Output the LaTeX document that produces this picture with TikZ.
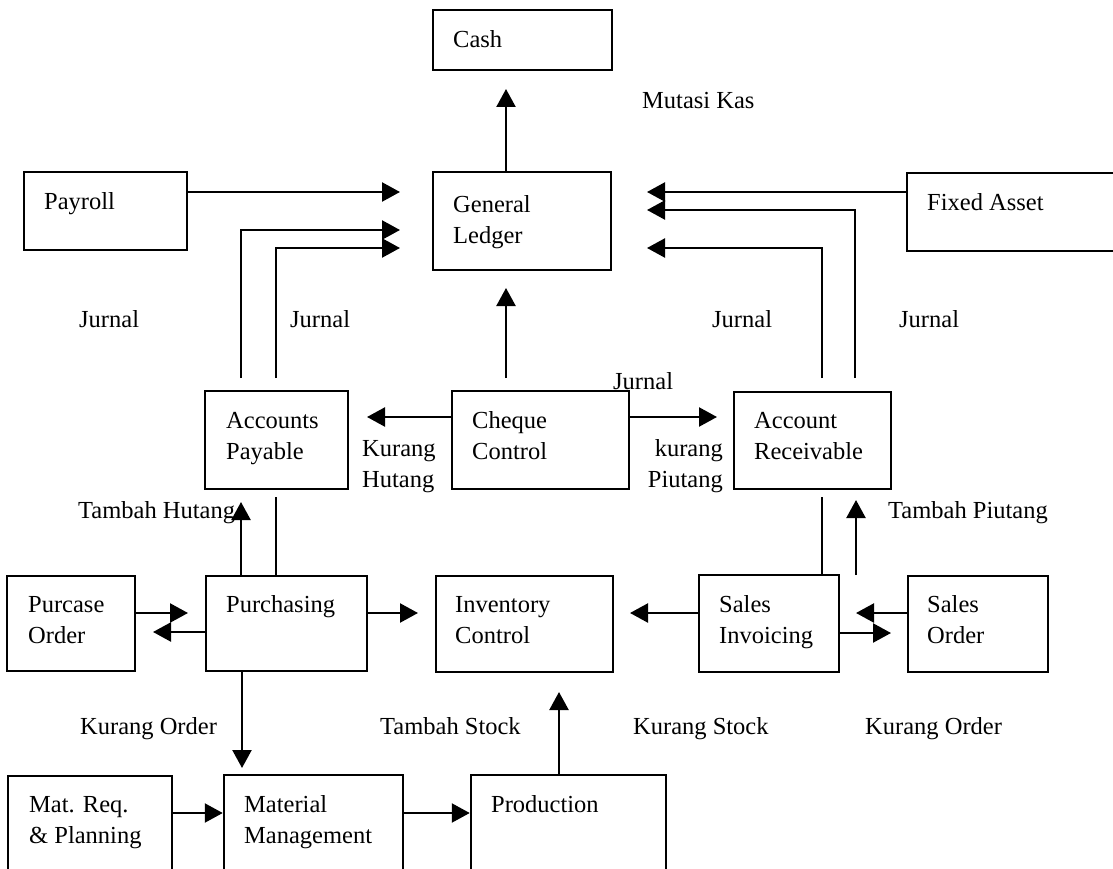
\documentclass[tikz,border=0pt]{standalone}
\usepackage{fontspec}
\setmainfont{Liberation Serif}
\usetikzlibrary{arrows.meta,fit}
\begin{document}
\begin{tikzpicture}[x=1pt,y=-1pt,
  box/.style={draw,line width=2.5pt,inner sep=0pt,rectangle},
  lbl/.style={anchor=base west,inner sep=0pt,align=left,font=\fontsize{24.5}{31}\selectfont},
  arr/.style={line width=2.3pt,-{Triangle[length=18pt,width=19pt]}},
  ln/.style={line width=2.3pt}]
\useasboundingbox (0,0) rectangle (1113,869);
% boxes
\node[box,fit={(433,10)(612,70)}] (cash) {};
\node[box,fit={(433,172)(611,270)}] (gl) {};
\node[box,fit={(24,172)(187,250)}] (payroll) {};
\node[box,fit={(907,173)(1130,251)}] (fixed) {};
\node[box,fit={(205,391)(348,489)}] (ap) {};
\node[box,fit={(452,391)(629,489)}] (cheque) {};
\node[box,fit={(734,392)(891,489)}] (ar) {};
\node[box,fit={(7,576)(135,671)}] (po) {};
\node[box,fit={(206,576)(367,671)}] (purch) {};
\node[box,fit={(436,576)(613,672)}] (inv) {};
\node[box,fit={(699,575)(839,672)}] (si) {};
\node[box,fit={(908,576)(1048,672)}] (so) {};
\node[box,fit={(8,776)(172,880)}] (mrp) {};
\node[box,fit={(224,775)(403,880)}] (mm) {};
\node[box,fit={(471,775)(666,880)}] (prod) {};
% box texts (base anchor = baseline of last line)
\node[lbl] (tcash) at (453,48) {Cash};
\node[lbl] (tgl) at (453,243) {General\\Ledger};
\node[lbl] (tpay) at (44,210) {Payroll};
\node[lbl] (tfix) at (927,211) {Fixed Asset};
\node[lbl] (tap) at (226,459) {Accounts\\Payable};
\node[lbl] (tchq) at (472,459) {Cheque\\Control};
\node[lbl] (tar) at (754,459) {Account\\Receivable};
\node[lbl] (tpo) at (28,643) {Purcase\\Order};
\node[lbl] (tpur) at (226,612) {Purchasing};
\node[lbl] (tinv) at (455,643) {Inventory\\Control};
\node[lbl] (tsi) at (719,643) {Sales\\Invoicing};
\node[lbl] (tso) at (927,643) {Sales\\Order};
\node[lbl] (tmrp) at (29,843) {Mat. Req.\\\& Planning};
\node[lbl] (tmm) at (244,843) {Material\\Management};
\node[lbl] (tprod) at (491,812) {Production};
% free labels
\node[lbl] (lmut) at (642,109) {Mutasi Kas};
\node[lbl] (lj1) at (79,327) {Jurnal};
\node[lbl] (lj2) at (290,327) {Jurnal};
\node[lbl] (lj3) at (712,327) {Jurnal};
\node[lbl] (lj4) at (899,327) {Jurnal};
\node[lbl] (lj5) at (613,389) {Jurnal};
\node[lbl] (lkh) at (362,487) {Kurang\\Hutang};
\node[lbl,anchor=base east,align=right] (lkp) at (723,487) {kurang\\Piutang};
\node[lbl] (lth) at (78,518) {Tambah Hutang};
\node[lbl] (ltp) at (888,518) {Tambah Piutang};
\node[lbl] (lko1) at (80,734) {Kurang Order};
\node[lbl] (lts) at (380,734) {Tambah Stock};
\node[lbl] (lks) at (633,734) {Kurang Stock};
\node[lbl] (lko2) at (865,734) {Kurang Order};
% free-end coordinates
\coordinate (cashin) at (506,89);
\coordinate (glinL1) at (400,192);
\coordinate (glinL2) at (400,230);
\coordinate (glinL3) at (400,248);
\coordinate (glinR1) at (647,192);
\coordinate (glinR2) at (647,210);
\coordinate (glinR3) at (647,248);
\coordinate (glinB) at (506,288);
\coordinate (apup1) at (241,378);
\coordinate (apup2) at (276,378);
\coordinate (arup1) at (822,378);
\coordinate (arup2) at (855,378);
\coordinate (apin) at (367,417);
\coordinate (arin) at (717,417);
\coordinate (chqtop) at (506,378);
\coordinate (apdn1) at (241,502);
\coordinate (apdn2) at (276,497);
\coordinate (ardn1) at (822,497);
\coordinate (ardn2) at (856,500);
\coordinate (ardn2s) at (856,575);
\coordinate (purin) at (188,613);
\coordinate (poin) at (153,632);
\coordinate (invinL) at (418,613);
\coordinate (invinR) at (630,613);
\coordinate (siin) at (856,613);
\coordinate (soin) at (891,633);
\coordinate (mmin) at (242,768);
\coordinate (invinB) at (559,692);
% connectors
\draw[arr] (gl.north -| cashin) -- (cashin);
\draw[arr] (payroll.east |- glinL1) -- (glinL1);
\draw[arr] (apup1) |- (glinL2);
\draw[arr] (apup2) |- (glinL3);
\draw[arr] (fixed.west |- glinR1) -- (glinR1);
\draw[arr] (arup2) |- (glinR2);
\draw[arr] (arup1) |- (glinR3);
\draw[arr] (chqtop) -- (glinB);
\draw[arr] (cheque.west |- apin) -- (apin);
\draw[arr] (cheque.east |- arin) -- (arin);
\draw[arr] (purch.north -| apdn1) -- (apdn1);
\draw[ln] (purch.north -| apdn2) -- (apdn2);
\draw[ln] (si.north -| ardn1) -- (ardn1);
\draw[arr] (ardn2s) -- (ardn2);
\draw[arr] (po.east |- purin) -- (purin);
\draw[arr] (purch.west |- poin) -- (poin);
\draw[arr] (purch.east |- invinL) -- (invinL);
\draw[arr] (si.west |- invinR) -- (invinR);
\draw[arr] (so.west |- siin) -- (siin);
\draw[arr] (si.east |- soin) -- (soin);
\draw[arr] (purch.south -| mmin) -- (mmin);
\draw[arr] (mrp.east |- 0,813) -- (mm.west |- 0,813);
\draw[arr] (mm.east |- 0,813) -- (prod.west |- 0,813);
\draw[arr] (prod.north -| invinB) -- (invinB);
\end{tikzpicture}
\end{document}
